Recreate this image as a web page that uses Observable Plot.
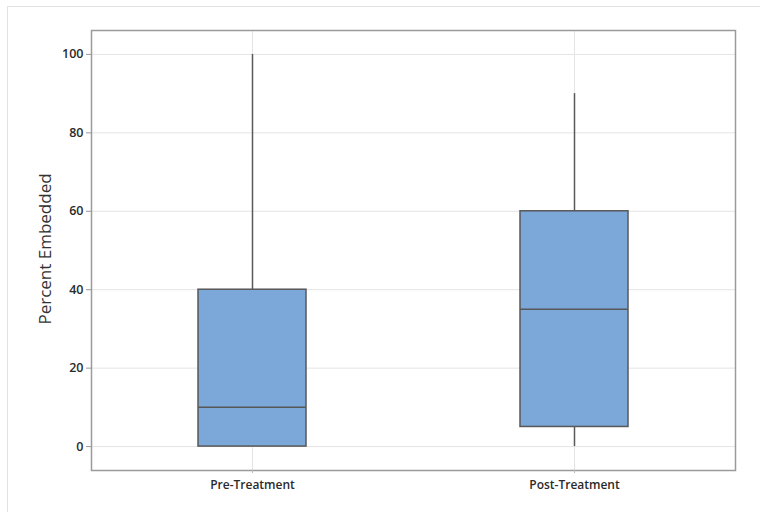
<!DOCTYPE html>
<html>
<head>
<meta charset="utf-8">
<script src="https://cdn.jsdelivr.net/npm/d3@7"></script>
<script src="https://cdn.jsdelivr.net/npm/@observablehq/plot@0.6"></script>
<style>
  html, body { margin: 0; padding: 0; background: #fff; }
  #wrap { position: relative; width: 760px; height: 512px; overflow: hidden; }
  #border { position: absolute; left: 7px; top: 6px; width: 800px; height: 600px; border: 1px solid #e2e2e2; box-sizing: border-box; }
  #chart { position: absolute; left: 0; top: 0; }
</style>
</head>
<body>
<div id="wrap"><div id="border"></div><div id="chart"></div></div>
<script>
const categories = ["Pre-Treatment", "Post-Treatment"];
const minVals    = [0, 0];
const q1Vals     = [0, 5];
const medianVals = [10, 35];
const q3Vals     = [40, 60];
const maxVals    = [100, 90];
const yTicks     = [0, 20, 40, 60, 80, 100];

const data = categories.map((c, i) => ({
  cat: c, min: minVals[i], q1: q1Vals[i], median: medianVals[i], q3: q3Vals[i], max: maxVals[i]
}));

const inset = 107;
const chart = Plot.plot({
  width: 760,
  height: 512,
  marginLeft: 91,
  marginRight: 25,
  marginTop: 30,
  marginBottom: 42,
  style: { fontFamily: "'Open Sans', 'Noto Sans', sans-serif", fontSize: "12.5px", fontWeight: 600, color: "#2a2a2a", background: "transparent" },
  x: { domain: categories, padding: 0, label: null },
  y: { domain: [-6.1, 106.1], label: null },
  marks: [
    Plot.ruleY(yTicks, { stroke: "#e4e4e4", strokeWidth: 1 }),
    Plot.ruleX(categories, { x: d => d, stroke: "#e4e4e4", strokeWidth: 1 }),
    Plot.ruleX(data, { x: "cat", y1: "q3", y2: "max", stroke: "#585858", strokeWidth: 1.5 }),
    Plot.ruleX(data.filter(d => d.min < d.q1), { x: "cat", y1: "min", y2: "q1", stroke: "#585858", strokeWidth: 1.5 }),
    Plot.barY(data, { x: "cat", y1: "q1", y2: "q3", fill: "#7ba7d9", stroke: "#585858", strokeWidth: 1.5, insetLeft: inset, insetRight: inset }),
    Plot.tickY(data, { x: "cat", y: "median", stroke: "#585858", strokeWidth: 1.5, insetLeft: inset, insetRight: inset }),
    Plot.frame({ stroke: "#9a9a9a", strokeWidth: 1.5 }),
    Plot.axisY({ ticks: yTicks, tickSize: 5, tickPadding: 3, stroke: "#9a9a9a", fill: "#2a2a2a", fontSize: 12.5, label: null }),
    Plot.axisX({ tickSize: 3, tickPadding: 7, stroke: "#bbb", fill: "#2a2a2a", fontSize: 12, label: null })
  ]
});
document.getElementById("chart").appendChild(chart);

const svg = d3.select(chart);
svg.append("text")
  .attr("transform", "translate(46,249) rotate(-90)")
  .attr("text-anchor", "middle")
  .attr("dominant-baseline", "middle")
  .attr("font-size", 17)
  .attr("font-weight", 500)
  .attr("fill", "#333")
  .attr("font-family", "'Open Sans', 'Noto Sans', sans-serif")
  .text("Percent Embedded");
</script>
</body>
</html>
